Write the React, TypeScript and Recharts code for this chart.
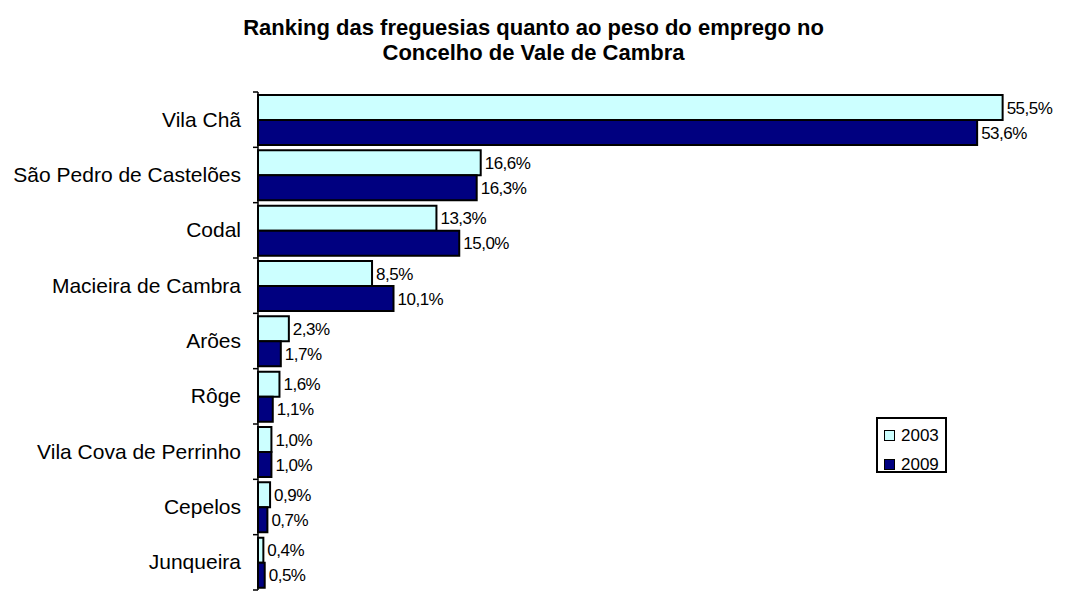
import React from "react";
import { BarChart, Bar, XAxis, YAxis, LabelList } from "recharts";

const freguesias = [
    "Vila Chã",
    "São Pedro de Castelões",
    "Codal",
    "Macieira de Cambra",
    "Arões",
    "Rôge",
    "Vila Cova de Perrinho",
    "Cepelos",
    "Junqueira",
];
const emprego2003 = [55.5, 16.6, 13.3, 8.5, 2.3, 1.6, 1.0, 0.9, 0.4];
const emprego2009 = [53.6, 16.3, 15.0, 10.1, 1.7, 1.1, 1.0, 0.7, 0.5];
const seriesNames = ["2003", "2009"];

const data = freguesias.map((name, i) => ({
    name,
    y2003: emprego2003[i],
    y2009: emprego2009[i],
}));

const W = 1067;
const H = 592;
const AXIS_X = 258;
const TOP = 92;
const BOTTOM = 2;
const BAND = (H - TOP - BOTTOM) / freguesias.length;
const FONT = '"Liberation Sans", Arial, sans-serif';
const LIGHT = "#CCFFFF";
const NAVY = "#000080";

const fmt = (v: any) => `${Number(v).toFixed(1).replace(".", ",")}%`;

function CategoryTick(props: any) {
    const { y, payload, index } = props;
    const top = y - BAND / 2;
    const isLast = index === freguesias.length - 1;
    return (
        <g>
            <line x1={AXIS_X - 5} x2={AXIS_X} y1={top} y2={top} stroke="#000" strokeWidth={1.5} />
            {isLast && (
                <line x1={AXIS_X - 5} x2={AXIS_X} y1={top + BAND} y2={top + BAND} stroke="#000" strokeWidth={1.5} />
            )}
            <text x={241} y={y} dy={7} textAnchor="end" fontSize={21} fontFamily={FONT} fill="#000">
                {payload.value}
            </text>
        </g>
    );
}

function LegendBox() {
    const colors = [LIGHT, NAVY];
    return (
        <div
            style={{
                position: "absolute",
                left: 876,
                top: 417,
                width: 71,
                height: 56,
                border: "2px solid #000",
                boxSizing: "border-box",
                background: "#fff",
                fontFamily: FONT,
                fontSize: 17,
                color: "#000",
            }}
        >
            {seriesNames.map((s, i) => (
                <div key={s} style={{ position: "absolute", left: 6, top: 8 + i * 29, display: "flex", alignItems: "center" }}>
                    <span
                        style={{
                            display: "inline-block",
                            width: 11,
                            height: 11,
                            background: colors[i],
                            border: "1.5px solid #000",
                            boxSizing: "border-box",
                            marginRight: 6,
                        }}
                    />
                    <span style={{ lineHeight: "17px" }}>{s}</span>
                </div>
            ))}
        </div>
    );
}

const labelStyle = { fontSize: 17, fontFamily: FONT, fill: "#000", letterSpacing: -0.5 };

export default function App() {
    return (
        <div style={{ position: "absolute", left: 0, top: 0, width: W, height: H, background: "#fff", fontFamily: FONT }}>
            <div
                style={{
                    position: "absolute",
                    left: 0,
                    top: 15,
                    width: W,
                    textAlign: "center",
                    fontSize: 22,
                    fontWeight: "bold",
                    lineHeight: "25px",
                    color: "#000",
                }}
            >
                <div>Ranking das freguesias quanto ao peso do emprego no</div>
                <div>Concelho de Vale de Cambra</div>
            </div>
            <div style={{ position: "absolute", left: 0, top: 0 }}>
                <BarChart
                    width={W}
                    height={H}
                    data={data}
                    layout="vertical"
                    margin={{ top: TOP, right: 4, bottom: BOTTOM, left: 0 }}
                    barCategoryGap={3}
                    barGap={0}
                >
                    <XAxis type="number" domain={[0, 60]} hide />
                    <YAxis
                        type="category"
                        dataKey="name"
                        width={AXIS_X}
                        axisLine={{ stroke: "#000", strokeWidth: 1.5 }}
                        tickLine={false}
                        tick={<CategoryTick />}
                        interval={0}
                    />
                    <Bar dataKey="y2003" name="2003" fill={LIGHT} stroke="#000" strokeWidth={2} isAnimationActive={false}>
                        <LabelList dataKey="y2003" position="right" offset={4} formatter={fmt} style={labelStyle} />
                    </Bar>
                    <Bar dataKey="y2009" name="2009" fill={NAVY} stroke="#000" strokeWidth={2} isAnimationActive={false}>
                        <LabelList dataKey="y2009" position="right" offset={4} formatter={fmt} style={labelStyle} />
                    </Bar>
                </BarChart>
            </div>
            <LegendBox />
        </div>
    );
}
